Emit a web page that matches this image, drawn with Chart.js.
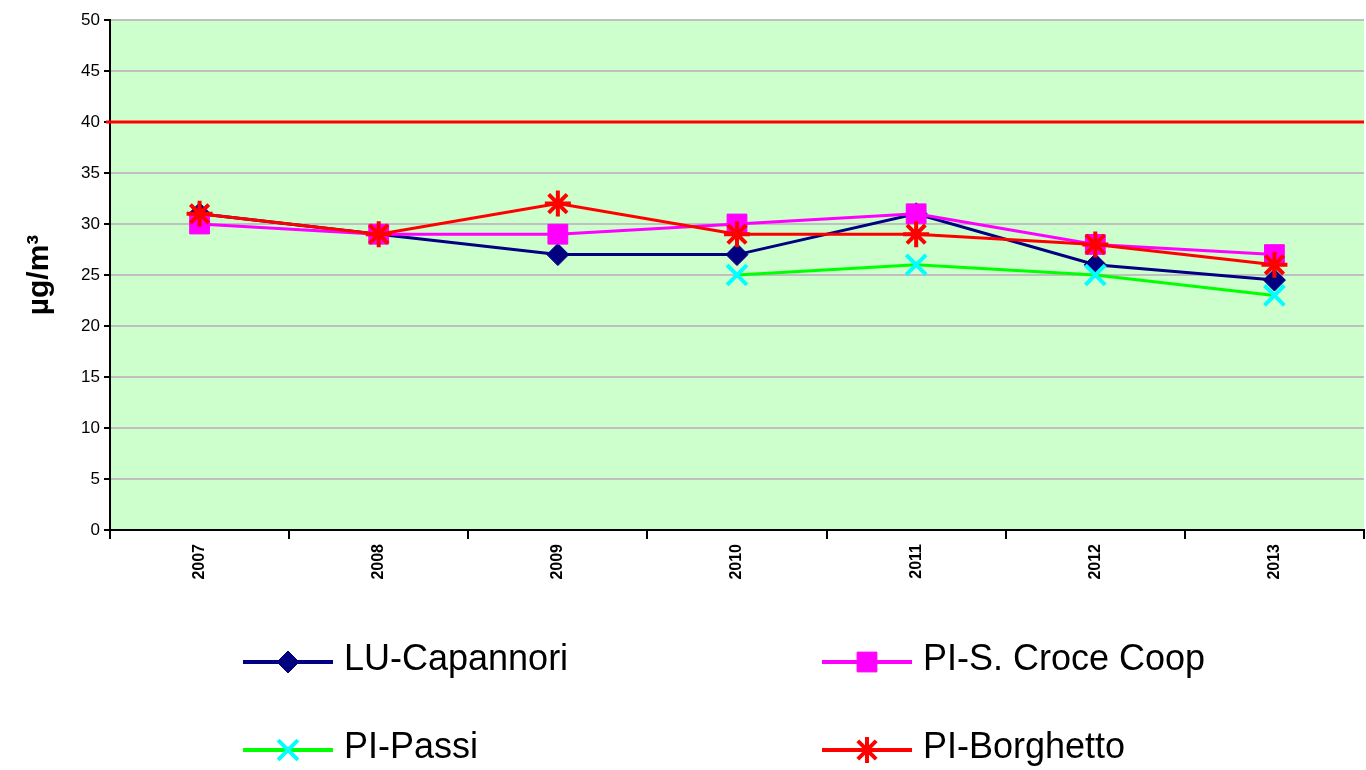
<!DOCTYPE html>
<html>
<head>
<meta charset="utf-8">
<script src="https://cdn.jsdelivr.net/npm/chart.js@4"></script>
<style>
  html, body { margin: 0; padding: 0; background: #fff; overflow: hidden; }
  #wrap { width: 1366px; height: 770px; }
</style>
</head>
<body>
<div id="wrap"><canvas id="chartNO2"></canvas></div>
<script>
const anni = ['2007', '2008', '2009', '2010', '2011', '2012', '2013'];
const capannori = [31, 29, 27, 27, 31, 26, 24.5];
const croceCoop = [30, 29, 29, 30, 31, 28, 27];
const passi = [null, null, null, 25, 26, 25, 23];
const borghetto = [31, 29, 32, 29, 29, 28, 26];
const limite = 40;
const yTicks = [0, 5, 10, 15, 20, 25, 30, 35, 40, 45, 50];

// green plot background
const sfondo = {
    id: 'sfondo',
    beforeDraw(chart) {
        const { ctx, chartArea: a } = chart;
        ctx.save();
        ctx.fillStyle = '#ccffcc';
        ctx.fillRect(a.left, a.top, a.right - a.left, a.bottom - a.top);
        ctx.restore();
    }
};

// limit line
const lineaLimite = {
    id: 'lineaLimite',
    beforeDatasetsDraw(chart) {
        const { ctx, chartArea: a, scales } = chart;
        const y = scales.y.getPixelForValue(limite);
        ctx.save();
        ctx.strokeStyle = '#ff0000';
        ctx.lineWidth = 3;
        ctx.beginPath();
        ctx.moveTo(a.left - 4, y);
        ctx.lineTo(a.right, y);
        ctx.stroke();
        ctx.restore();
    }
};

// legend in two columns, line with marker in the middle
const legenda = {
    id: 'legenda',
    afterDraw(chart) {
        const ctx = chart.ctx;
        const cols = [243, 822];
        const rows = [662, 750];
        ctx.save();
        chart.data.datasets.forEach((ds, i) => {
            const x = cols[i % 2];
            const y = rows[Math.floor(i / 2)];
            ctx.strokeStyle = ds.borderColor;
            ctx.lineWidth = 4;
            ctx.beginPath();
            ctx.moveTo(x, y);
            ctx.lineTo(x + 90, y);
            ctx.stroke();
            ctx.fillStyle = ds.pointBackgroundColor;
            ctx.strokeStyle = ds.pointBorderColor;
            ctx.lineWidth = ds.pointBorderWidth;
            Chart.helpers.drawPoint(ctx, { pointStyle: ds.pointStyle, radius: ds.pointRadius, borderWidth: ds.pointBorderWidth, rotation: 0 }, x + 45, y);
            ctx.fillStyle = '#000';
            ctx.font = '36px "Liberation Sans", Arial, sans-serif';
            ctx.textBaseline = 'middle';
            ctx.fillText(ds.label, x + 101, y - 2);
        });
        ctx.restore();
    }
};

const ctxNO2 = document.getElementById('chartNO2').getContext('2d');

const chartNO2 = new Chart(ctxNO2, {
    type: 'line',
    data: {
        labels: anni,
        datasets: [
            {
                label: 'LU-Capannori',
                data: capannori,
                borderColor: '#000080',
                borderWidth: 3,
                pointStyle: 'rectRot',
                pointRadius: 11,
                pointBackgroundColor: '#000080',
                pointBorderColor: '#000080',
                pointBorderWidth: 1,
                order: 4
            },
            {
                label: 'PI-S. Croce Coop',
                data: croceCoop,
                borderColor: '#ff00ff',
                borderWidth: 3,
                pointStyle: 'rect',
                pointRadius: 14,
                pointBackgroundColor: '#ff00ff',
                pointBorderColor: '#ff00ff',
                pointBorderWidth: 1,
                order: 3
            },
            {
                label: 'PI-Passi',
                data: passi,
                borderColor: '#00ff00',
                borderWidth: 3,
                pointStyle: 'crossRot',
                pointRadius: 14,
                pointBackgroundColor: '#00ffff',
                pointBorderColor: '#00ffff',
                pointBorderWidth: 4,
                order: 2
            },
            {
                label: 'PI-Borghetto',
                data: borghetto,
                borderColor: '#ff0000',
                borderWidth: 3,
                pointStyle: 'star',
                pointRadius: 13,
                pointBackgroundColor: '#ff0000',
                pointBorderColor: '#ff0000',
                pointBorderWidth: 4,
                order: 1
            }
        ]
    },
    options: {
        responsive: true,
        maintainAspectRatio: false,
        animation: false,
        spanGaps: false,
        layout: { autoPadding: false, padding: { top: 20, right: 2, left: 0, bottom: 0 } },
        plugins: {
            legend: { display: false },
            tooltip: { enabled: false }
        },
        elements: { line: { tension: 0 } },
        scales: {
            x: {
                offset: true,
                afterFit(scale) {
                    scale.height = 240;
                    scale.paddingLeft = 0;
                    scale.paddingRight = 0;
                },
                border: { display: true, color: '#000', width: 2 },
                grid: {
                    offset: true,
                    drawOnChartArea: false,
                    drawTicks: true,
                    tickLength: 9,
                    tickColor: '#000',
                    lineWidth: 2
                },
                ticks: {
                    minRotation: 90,
                    maxRotation: 90,
                    padding: 5,
                    color: '#000',
                    font: { family: '"Liberation Sans", Arial, sans-serif', size: 16, weight: 'bold' }
                }
            },
            y: {
                min: 0,
                max: 50,
                afterFit(scale) { scale.width = 110; },
                afterBuildTicks(scale) { scale.ticks = yTicks.map(v => ({ value: v })); },
                border: { display: true, color: '#000', width: 2 },
                grid: {
                    color: '#c0c0c0',
                    lineWidth: 2,
                    tickColor: '#000',
                    tickLength: 6
                },
                ticks: {
                    padding: 4,
                    color: '#000',
                    font: { family: '"Liberation Sans", Arial, sans-serif', size: 17 }
                },
                title: {
                    display: true,
                    text: 'µg/m³',
                    color: '#000',
                    padding: { top: 22, bottom: 0 },
                    font: { family: '"Liberation Sans", Arial, sans-serif', size: 30, weight: 'bold' }
                }
            }
        }
    },
    plugins: [sfondo, lineaLimite, legenda]
});
</script>
</body>
</html>
